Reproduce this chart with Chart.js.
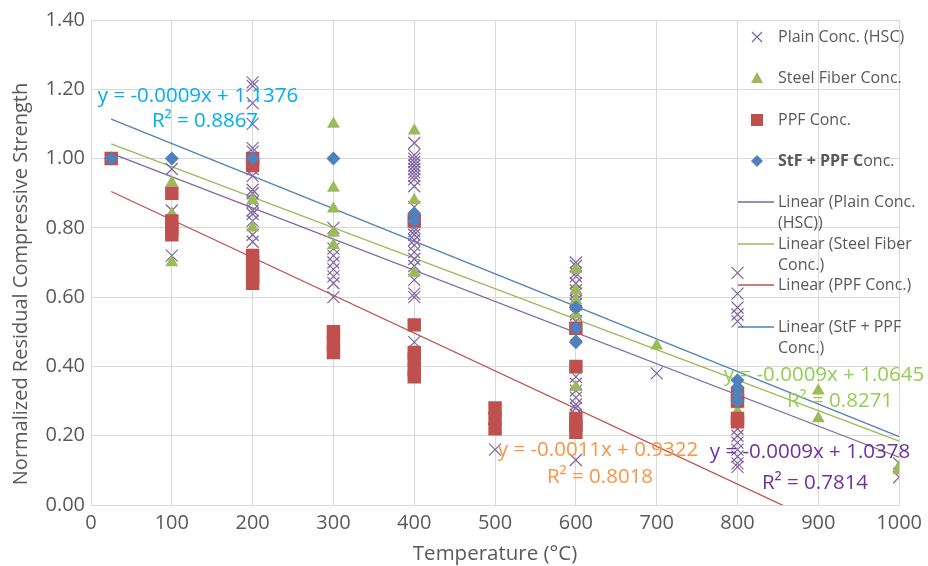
<!DOCTYPE html>
<html>
<head>
<meta charset="utf-8">
<script src="https://cdn.jsdelivr.net/npm/chart.js@4.4.1/dist/chart.umd.min.js"></script>
<style>
  html, body { margin: 0; padding: 0; background: #fff; }
  #wrap { width: 928px; height: 566px; position: relative; }
</style>
</head>
<body>
<div id="wrap"><canvas id="myChart" width="928" height="566"></canvas></div>
<script>
// temperature (°C), normalized residual strength
const plainData = [
  [25, 1.00],
  [100, 0.97], [100, 0.85], [100, 0.72],
  [200, 1.22], [200, 1.21], [200, 1.16], [200, 1.10], [200, 1.03], [200, 1.02], [200, 0.97], [200, 0.95],
  [200, 0.91], [200, 0.90], [200, 0.875], [200, 0.85], [200, 0.84], [200, 0.82], [200, 0.78], [200, 0.76],
  [300, 0.80], [300, 0.74], [300, 0.72], [300, 0.70], [300, 0.68], [300, 0.66], [300, 0.64], [300, 0.60],
  [400, 1.045], [400, 1.01], [400, 1.00], [400, 0.99], [400, 0.98], [400, 0.97], [400, 0.96], [400, 0.95],
  [400, 0.94], [400, 0.92], [400, 0.86], [400, 0.80], [400, 0.79], [400, 0.78], [400, 0.765], [400, 0.75],
  [400, 0.73], [400, 0.71], [400, 0.69], [400, 0.65], [400, 0.61], [400, 0.60], [400, 0.47],
  [500, 0.16],
  [600, 0.70], [600, 0.69], [600, 0.67], [600, 0.66], [600, 0.64], [600, 0.62], [600, 0.61], [600, 0.59],
  [600, 0.58], [600, 0.56], [600, 0.55], [600, 0.53], [600, 0.49], [600, 0.37], [600, 0.35], [600, 0.33],
  [600, 0.31], [600, 0.29], [600, 0.28], [600, 0.26], [600, 0.13],
  [700, 0.38],
  [800, 0.67], [800, 0.61], [800, 0.57], [800, 0.55], [800, 0.53], [800, 0.22], [800, 0.20], [800, 0.18],
  [800, 0.16], [800, 0.14], [800, 0.12], [800, 0.11],
  [1000, 0.12], [1000, 0.08]
];
const steelData = [
  [25, 1.00],
  [100, 0.93], [100, 0.84], [100, 0.70],
  [200, 1.00], [200, 0.88], [200, 0.80],
  [300, 1.10], [300, 0.915], [300, 0.855], [300, 0.785], [300, 0.75],
  [400, 1.08], [400, 0.88], [400, 0.67],
  [600, 0.68], [600, 0.62], [600, 0.59], [600, 0.55], [600, 0.39], [600, 0.34],
  [700, 0.46],
  [800, 0.29], [800, 0.27],
  [900, 0.33], [900, 0.25],
  [1000, 0.11], [1000, 0.10]
];
const ppfData = [
  [25, 1.00],
  [100, 0.90], [100, 0.82], [100, 0.80], [100, 0.78],
  [200, 1.00], [200, 0.98], [200, 0.72], [200, 0.70], [200, 0.68], [200, 0.66], [200, 0.64],
  [300, 0.50], [300, 0.47], [300, 0.44],
  [400, 0.82], [400, 0.52], [400, 0.44], [400, 0.42], [400, 0.39], [400, 0.37],
  [500, 0.28], [500, 0.25], [500, 0.22],
  [600, 0.51], [600, 0.40], [600, 0.25], [600, 0.23], [600, 0.21],
  [800, 0.32], [800, 0.30], [800, 0.25], [800, 0.24]
];
const hybridData = [
  [25, 1.00], [100, 1.00], [200, 1.00], [300, 1.00],
  [400, 0.84], [400, 0.82],
  [600, 0.57], [600, 0.51], [600, 0.47],
  [800, 0.36], [800, 0.34], [800, 0.32], [800, 0.30]
];

const seriesNames = ["Plain Conc. (HSC)", "Steel Fiber Conc.", "PPF Conc.", "StF + PPF Conc."];
const seriesColors = ["#8064a2", "#9bbb59", "#c0504d", "#4f81bd"];
// trendline fits (slope, intercept) and the equation labels shown on the chart
const trendSlope = [-0.0009, -0.00088, -0.00109, -0.00094];
const trendIntercept = [1.0378, 1.0645, 0.9322, 1.1376];
const trendRange = [25, 1000];
const eqLabels = ["y = -0.0009x + 1.0378", "y = -0.0009x + 1.0645", "y = -0.0011x + 0.9322", "y = -0.0009x + 1.1376"];
const r2Labels = ["R\u00b2 = 0.7814", "R\u00b2 = 0.8271", "R\u00b2 = 0.8018", "R\u00b2 = 0.8867"];
const eqColors = ["#7030a0", "#92d050", "#f79646", "#00b0f0"];

const FONT = "'Open Sans', sans-serif";
const toXY = (arr) => arr.map((p) => ({ x: p[0], y: p[1] }));

function trendPoints(i) {
  return trendRange.map((t) => ({ x: t, y: trendIntercept[i] + trendSlope[i] * t }));
}

const pointSets = [plainData, steelData, ppfData, hybridData];
const pointStyles = ["crossRot", "triangle", "rect", "rectRot"];
const pointRadii = [8.5, 7.5, 9.5, 7];

const datasets = [];
// trendlines first so markers sit on top
for (let i = 0; i < 4; i++) {
  datasets.push({
    type: "line",
    data: trendPoints(i),
    borderColor: seriesColors[i],
    borderWidth: 1.3,
    pointRadius: 0,
    fill: false,
    order: 10,
  });
}
for (let i = 0; i < 4; i++) {
  datasets.push({
    type: "scatter",
    data: toXY(pointSets[i]),
    pointStyle: pointStyles[i],
    pointRadius: pointRadii[i],
    pointHoverRadius: pointRadii[i],
    backgroundColor: seriesColors[i],
    borderColor: seriesColors[i],
    borderWidth: i === 0 ? 1.2 : 0,
    order: 5 - i,
  });
}

// legend, y title + equation labels drawn on the canvas
const overlay = {
  id: "overlay",
  afterDatasetsDraw(chart) {
    const ctx = chart.ctx;
    ctx.save();

    // y axis title
    ctx.save();
    ctx.translate(21, 284);
    ctx.rotate(-Math.PI / 2);
    ctx.font = "20px " + FONT;
    ctx.fillStyle = "#595959";
    ctx.textAlign = "center";
    ctx.textBaseline = "middle";
    ctx.fillText("Normalized Residual Compressive Strength", 0, 0);
    ctx.restore();

    // equations
    ctx.font = "20.5px " + FONT;
    ctx.textBaseline = "middle";
    const eqPos = [
      [810, 452, 815, 483],
      [824, 375, 840, 401],
      [598, 450, 600, 477],
      [198, 96, 205, 121],
    ];
    for (let i = 0; i < 4; i++) {
      ctx.fillStyle = eqColors[i];
      ctx.textAlign = "center";
      ctx.fillText(eqLabels[i], eqPos[i][0], eqPos[i][1]);
      ctx.fillText(r2Labels[i], eqPos[i][2], eqPos[i][3]);
    }

    // legend
    ctx.font = "16px " + FONT;
    ctx.textAlign = "left";
    const mx = 757, tx = 778;
    const rowY = [37, 78, 120, 161];
    for (let i = 0; i < 4; i++) {
      const y = rowY[i];
      ctx.fillStyle = seriesColors[i];
      ctx.strokeStyle = seriesColors[i];
      if (i === 0) {
        ctx.lineWidth = 1.2;
        ctx.beginPath();
        ctx.moveTo(mx - 5, y - 5); ctx.lineTo(mx + 5, y + 5);
        ctx.moveTo(mx + 5, y - 5); ctx.lineTo(mx - 5, y + 5);
        ctx.stroke();
      } else if (i === 1) {
        ctx.beginPath();
        ctx.moveTo(mx, y - 6); ctx.lineTo(mx + 6, y + 5); ctx.lineTo(mx - 6, y + 5);
        ctx.closePath(); ctx.fill();
      } else if (i === 2) {
        ctx.fillRect(mx - 6, y - 6, 12, 12);
      } else {
        ctx.beginPath();
        ctx.moveTo(mx, y - 6); ctx.lineTo(mx + 6, y); ctx.lineTo(mx, y + 6); ctx.lineTo(mx - 6, y);
        ctx.closePath(); ctx.fill();
      }
      ctx.fillStyle = "#595959";
      if (i === 3) {
        ctx.font = "bold 16px " + FONT;
        ctx.fillText("StF + PPF C", tx, y);
        const w = ctx.measureText("StF + PPF C").width;
        ctx.font = "16px " + FONT;
        ctx.fillText("onc.", tx + w, y);
      } else {
        ctx.fillText(seriesNames[i], tx, y);
      }
    }
    const lineRows = [
      [202, ["Linear (Plain Conc.", "(HSC))"]],
      [244, ["Linear (Steel Fiber", "Conc.)"]],
      [285, ["Linear (PPF Conc.)"]],
      [327, ["Linear (StF + PPF", "Conc.)"]],
    ];
    for (let i = 0; i < 4; i++) {
      const y = lineRows[i][0];
      ctx.strokeStyle = seriesColors[i];
      ctx.lineWidth = 1.3;
      ctx.beginPath();
      ctx.moveTo(738, y); ctx.lineTo(774, y);
      ctx.stroke();
      ctx.fillStyle = "#595959";
      lineRows[i][1].forEach((t, k) => ctx.fillText(t, tx, y + k * 21));
    }
    ctx.restore();
  },
};

const ctx = document.getElementById("myChart");
const myChart = new Chart(ctx, {
  data: { datasets: datasets },
  options: {
    responsive: false,
    animation: false,
    events: [],
    layout: { padding: { top: 20, right: 27, left: 0, bottom: 0 } },
    plugins: { legend: { display: false }, tooltip: { enabled: false } },
    scales: {
      x: {
        type: "linear",
        min: 0,
        max: 1000,
        afterFit: (scale) => { scale.height = 61; },
        ticks: {
          stepSize: 100,
          color: "#595959",
          font: { family: FONT, size: 20 },
          padding: 6,
          callback: (v) => String(v),
        },
        grid: { color: "#d9d9d9", lineWidth: 1, drawTicks: false },
        border: { color: "#d9d9d9" },
        title: { display: true, text: "Temperature (\u00b0C)", color: "#595959", font: { family: FONT, size: 20.5 }, padding: { top: 0, bottom: 0 } },
      },
      y: {
        min: 0,
        max: 1.4,
        afterFit: (scale) => { scale.width = 91; },
        ticks: {
          stepSize: 0.2,
          color: "#595959",
          font: { family: FONT, size: 20 },
          padding: 6,
          callback: (v) => v.toFixed(2),
        },
        grid: { color: "#d9d9d9", lineWidth: 1, drawTicks: false },
        border: { color: "#d9d9d9" },
        title: { display: false },
      },
    },
  },
  plugins: [overlay],
});
</script>
</body>
</html>
